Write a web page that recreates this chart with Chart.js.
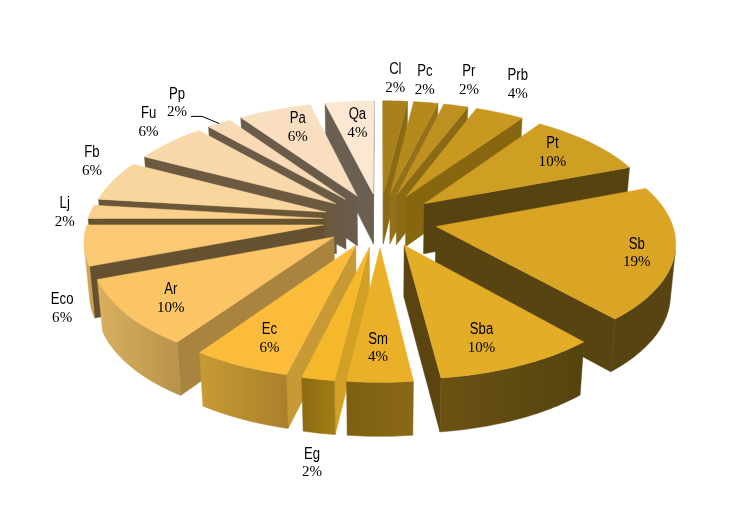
<!DOCTYPE html>
<html>
<head>
<meta charset="utf-8">
<style>html,body{margin:0;padding:0;background:#fff}canvas{display:block}</style>
<script src="https://cdn.jsdelivr.net/npm/chart.js@4"></script>
</head>
<body>
<canvas id="c" width="731" height="514"></canvas>
<script>
const categories = ["Cl","Pc","Pr","Prb","Pt","Sb","Sba","Sm","Eg","Ec","Ar","Eco","Lj","Fb","Fu","Pp","Pa","Qa"];
const counts = [1,1,1,2,5,10,5,2,1,3,5,3,1,3,3,1,3,2];
const topColors = ["#A9811B","#B58A1C","#BE9020","#C89821","#CF9F24","#DAA525","#E3AD28","#EAB128","#F5B82B","#FBBB3B","#FBC566","#FBC874","#FBCF8C","#FAD69F","#F9D8AB","#F8DBB6","#F9DFC0","#FBE7D2"];
const wallColors = ["#8B6A16","#94701A","#8A6A14","#86660F","#57430F","#574410","#5A4510","#D6A224","#D2A025","#C79A35","#A9843F","#655130","#66532F","#6A5737","#6B5A40","#6B5B46","#6A5B4B","#6B5F52"];
const rimLeftColors = ["#8B6A16","#94701A","#8A6A14","#86660F","#57430F","#574410","#6A5213","#7E5F12","#8D6B12","#C79A35","#DAB05F","#D9AB5F","#D9AB5F","#D9AB5F","#D9AB5F","#D9AB5F","#D9AB5F","#D9AB5F"];
const rimRightColors = ["#8B6A16","#94701A","#8A6A14","#86660F","#57430F","#574410","#55430F","#8A6916","#A27C15","#A9802A","#B8924B","#C29A50","#C29A50","#C29A50","#C29A50","#C29A50","#C29A50","#C29A50"];
// label offsets from each slice's projected rim midpoint
const labelOffsets = [[0,-22],[-1,-22],[13,-25],[18,-28],[-38,10],[-38,-1],[-38,-27],[-2,-34],[-6,84],[29,-27],[45,-15],[-22,63],[-26,1],[-21,-19],[-21,-20],[-42,-20],[23,18],[8,22]];
const leaderFor = "Pp";

const view = {cx:380, cy:220, rx:292.5, ry:137.5, persp:0.153, explode:0.196, radius:0.804, depth:50.5, depthV:3.5, converge:0.982, lineGap:18};

function project(u, v){
  const w = 1 - view.persp * v;
  return {x: view.cx + view.rx * u / w, y: view.cy + view.ry * v / w, v};
}
function drop(p){
  return {x: view.cx + (p.x - view.cx) * view.converge, y: p.y + view.depth + view.depthV * p.v};
}
function quadArea(a,b,c,d){
  const s=[a,b,c,d]; let t=0;
  for(let i=0;i<4;i++){const p=s[i],q=s[(i+1)%4]; t+=p.x*q.y-q.x*p.y;}
  return t/2;
}
function poly(ctx, pts, fill){
  ctx.beginPath();
  pts.forEach((p,i)=> i?ctx.lineTo(p.x,p.y):ctx.moveTo(p.x,p.y));
  ctx.closePath();
  ctx.fillStyle=fill; ctx.fill();
  ctx.lineWidth=0.5; ctx.strokeStyle=fill; ctx.stroke();
}
function squeezedText(ctx,text,x,y,font,sx){
  ctx.save();
  ctx.translate(x,y);
  ctx.scale(sx,1);
  ctx.font=font;
  ctx.fillText(text,0,0);
  ctx.restore();
}

const pie3d = {
  id:'pie3d',
  beforeDatasetsDraw(chart){
    const ctx = chart.ctx, meta = chart.getDatasetMeta(0), total = counts.reduce((a,b)=>a+b,0);
    const slices = meta.data.map((arc,i)=>{
      const a0 = arc.startAngle + Math.PI/2, a1 = arc.endAngle + Math.PI/2, mid=(a0+a1)/2;
      const ox = view.explode*Math.sin(mid), oy = -view.explode*Math.cos(mid);
      const apex = project(ox,oy), rim=[];
      const n = Math.max(6, Math.ceil((a1-a0)/0.02));
      for(let k=0;k<=n;k++){
        const a=a0+(a1-a0)*k/n;
        rim.push(project(ox+view.radius*Math.sin(a), oy-view.radius*Math.cos(a)));
      }
      return {i,mid,apex,rim,depthKey:-Math.cos(mid)};
    });
    const order = slices.slice().sort((a,b)=>a.depthKey-b.depthKey);
    ctx.save();
    order.forEach(s=>{
      const {i,apex,rim}=s;
      const wall=(p,q)=>{
        const P=drop(p),Q=drop(q);
        if(quadArea(p,q,Q,P)<0) poly(ctx,[p,q,Q,P],wallColors[i]);
      };
      wall(apex,rim[0]);
      wall(rim[rim.length-1],apex);
      const tops=[],bots=[];
      for(let k=0;k<rim.length-1;k++){
        const p=rim[k],q=rim[k+1],P=drop(p),Q=drop(q);
        if(quadArea(p,q,Q,P)<0){
          if(!tops.length){tops.push(p);bots.push(P);}
          tops.push(q);bots.push(Q);
        }
      }
      if(tops.length){
        const xs=tops.concat(bots).map(p=>p.x);
        const g=ctx.createLinearGradient(Math.min(...xs),0,Math.max(...xs)+0.01,0);
        g.addColorStop(0,rimLeftColors[i]); g.addColorStop(1,rimRightColors[i]);
        poly(ctx,tops.concat(bots.reverse()),g);
      }
      poly(ctx,[apex].concat(rim),topColors[i]);
    });
    // labels
    ctx.textAlign='center'; ctx.textBaseline='middle'; ctx.fillStyle='#000';
    slices.forEach(s=>{
      const i=s.i, anchor=project(Math.sin(s.mid),-Math.cos(s.mid));
      const x=anchor.x+labelOffsets[i][0], y=anchor.y+labelOffsets[i][1];
      squeezedText(ctx,categories[i],x,y-view.lineGap/2,'16px "Liberation Sans",sans-serif',0.82);
      squeezedText(ctx,Math.round(counts[i]/total*100)+'%',x,y+view.lineGap/2,'15.5px "Liberation Serif",serif',0.97);
      if(categories[i]===leaderFor){
        ctx.beginPath();
        ctx.moveTo(anchor.x,anchor.y);
        ctx.lineTo(anchor.x-17,anchor.y-7);
        ctx.lineTo(anchor.x-28,anchor.y-7);
        ctx.strokeStyle='#000'; ctx.lineWidth=1; ctx.stroke();
      }
    });
    ctx.restore();
    return false;
  }
};

new Chart(document.getElementById('c'),{
  type:'pie',
  data:{labels:categories,datasets:[{data:counts,backgroundColor:topColors,borderWidth:0}]},
  options:{responsive:false,animation:false,plugins:{legend:{display:false},tooltip:{enabled:false}}},
  plugins:[pie3d]
});
</script>
</body>
</html>
